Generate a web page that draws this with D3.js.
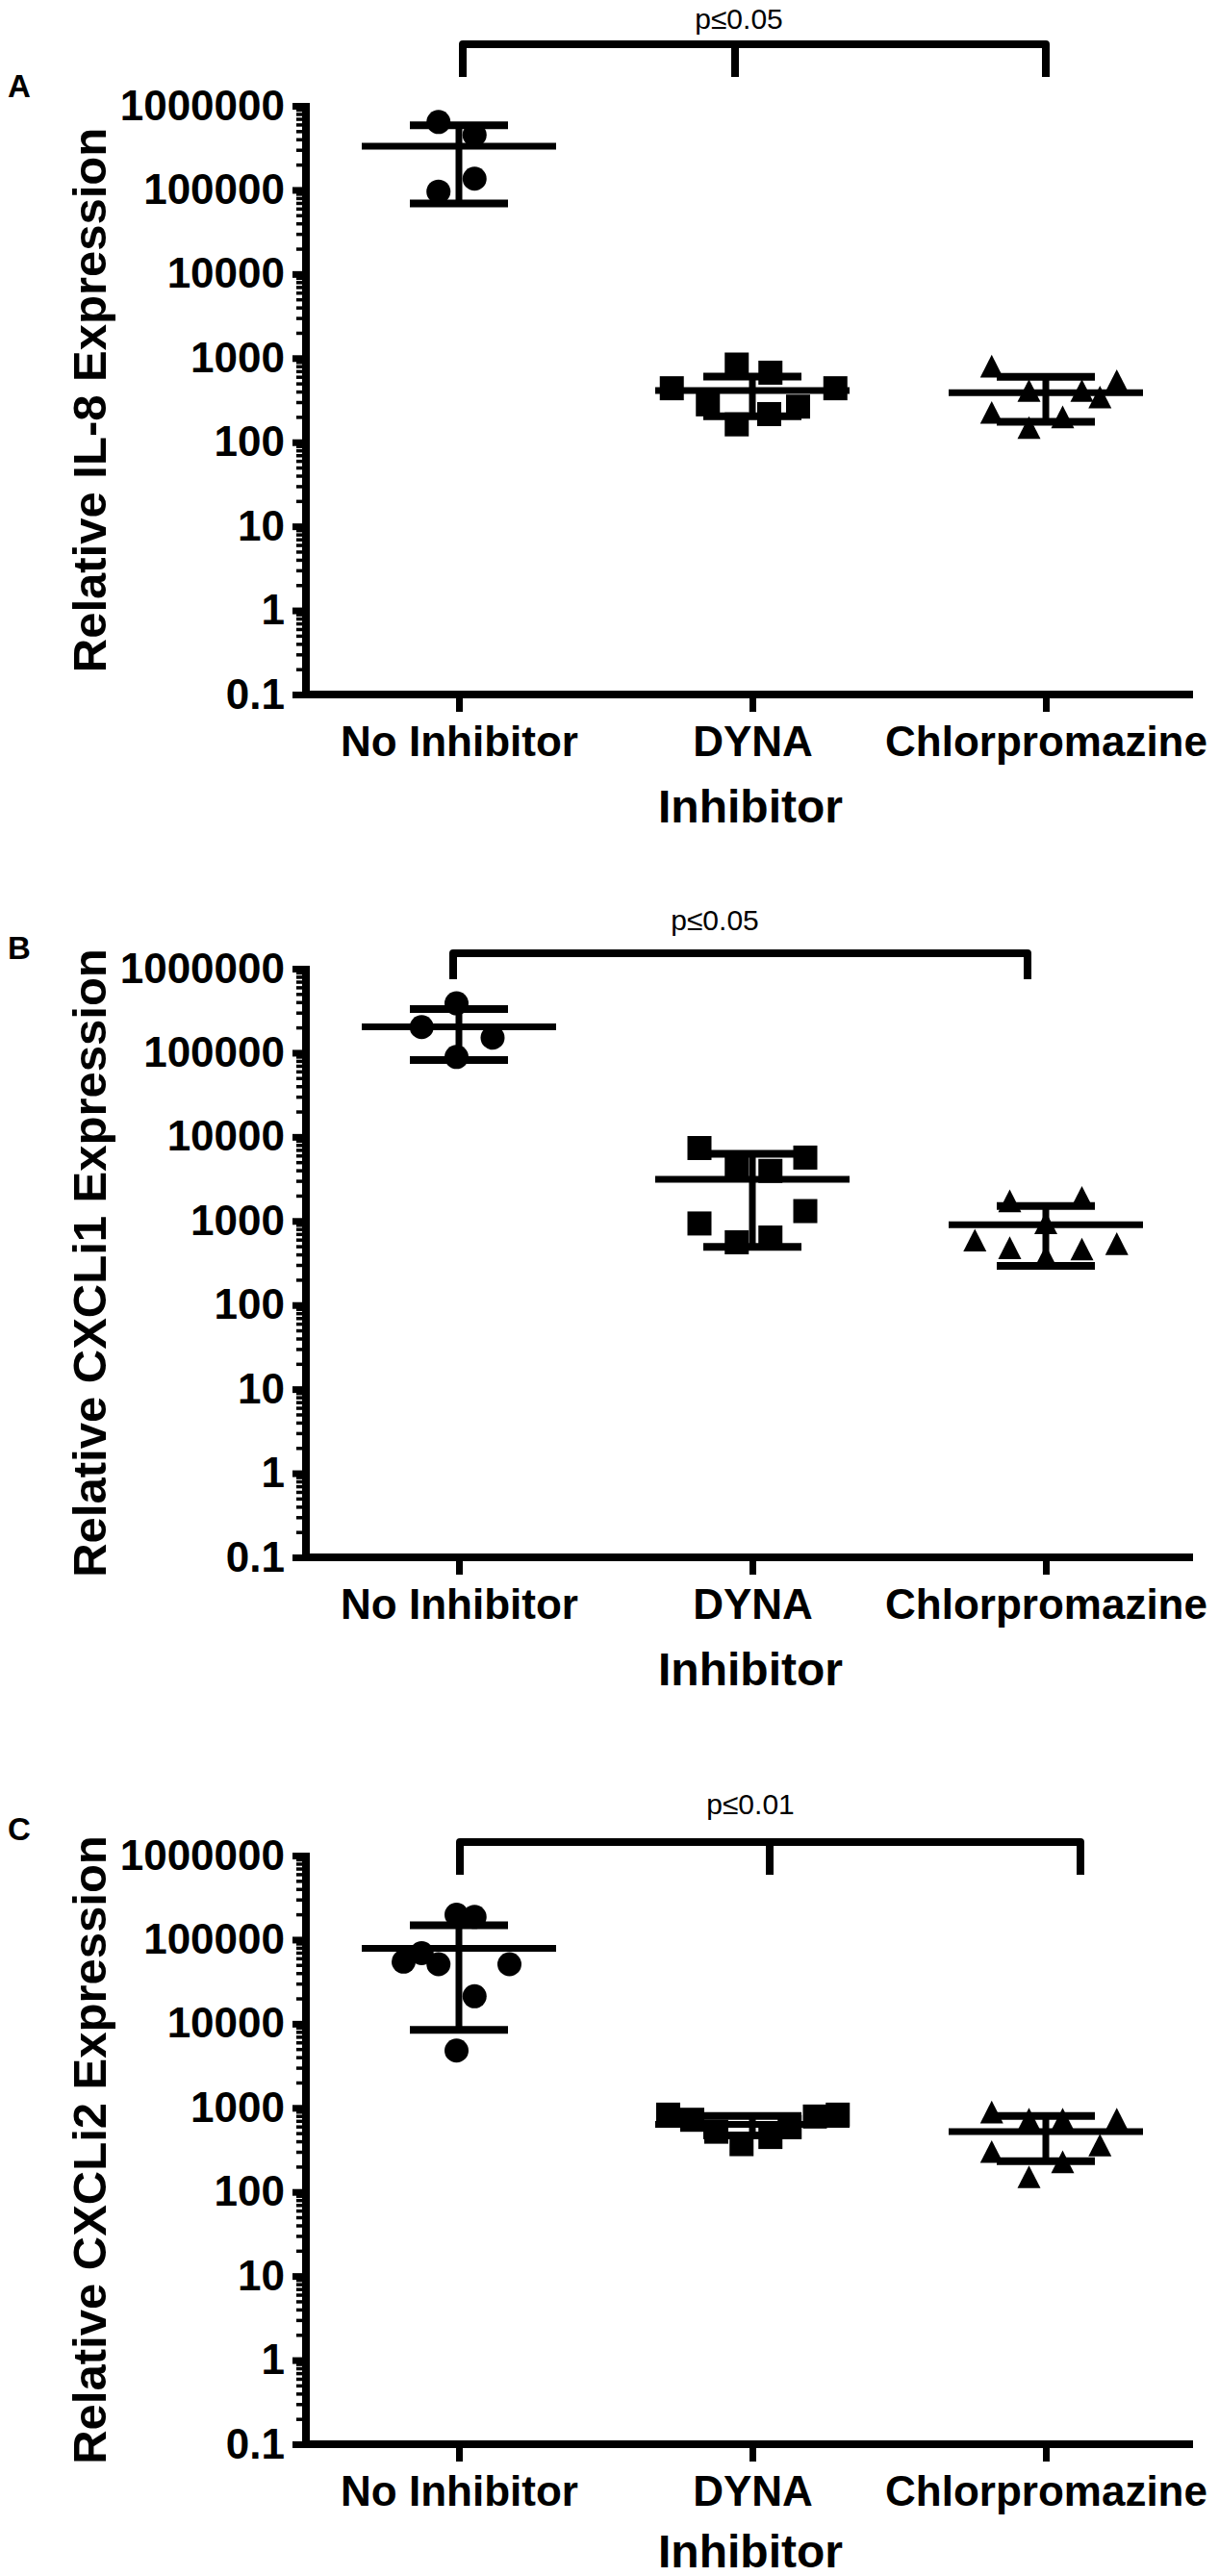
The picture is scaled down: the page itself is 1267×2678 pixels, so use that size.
<!DOCTYPE html>
<html><head><meta charset="utf-8">
<script src="https://cdn.jsdelivr.net/npm/d3@7"></script>
<style>
body{margin:0;background:#fff}
svg{display:block}
text{font-family:"Liberation Sans", Arial, Helvetica, sans-serif}
</style>
</head><body>
<svg id="c" width="1267" height="2678"></svg>
<script>
// ---------- data ----------
const categories = ["No Inhibitor", "DYNA", "Chlorpromazine"];
const yTicks = [0.1, 1, 10, 100, 1000, 10000, 100000, 1000000];
const yTickLabels = ["0.1", "1", "10", "100", "1000", "10000", "100000", "1000000"];
const xTitle = "Inhibitor";

// Panel A : IL-8
const il8NoInhibitor = [642000, 451000, 136000, 95600];
const il8Dyna = [838, 671, 438, 438, 282, 163, 216, 265];
const il8Chlor = [802, 412, 412, 538, 345, 226, 200, 149];
const il8Mean = [331000, 412, 387];
const il8Low = [68900, 203, 175];
const il8High = [588000, 604, 598];

// Panel B : CXCLi1
const cxcli1NoInhibitor = [387000, 202000, 151000, 89000];
const cxcli1Dyna = [7360, 5670, 4255, 3935, 933, 1310, 557, 635];
const cxcli1Chlor = [1733, 1905, 948, 592, 481, 464, 537, 378];
const cxcli1Mean = [203000, 3135, 902];
const cxcli1Low = [82000, 493, 292];
const cxcli1High = [330000, 6300, 1506];

// Panel C : CXCLi2
const cxcli2NoInhibitor = [198000, 186000, 69000, 54700, 51000, 51000, 21200, 4800];
const cxcli2Dyna = [830, 830, 721, 788, 520, 590, 370, 450];
const cxcli2Chlor = [891, 733, 733, 733, 361, 302, 228, 151];
const cxcli2Mean = [78900, 636, 523];
const cxcli2Low = [8470, 470, 232];
const cxcli2High = [148000, 800, 802];

// horizontal scatter spread of points (in marker-diameter units)
const spreadA = [[-0.85, 0.65, 0.65, -0.85],
                 [-0.65, 0.75, -3.35, 3.45, -1.85, -0.65, 0.7, 1.9],
                 [-2.25, -0.7, 1.5, 2.95, 2.25, -2.25, 0.7, -0.7]];
const spreadB = [[-0.1, -1.55, 1.4, -0.1],
                 [-2.2, 2.2, -0.65, 0.75, -2.2, 2.2, -0.65, 0.75],
                 [-1.5, 1.5, 0, -2.95, -1.5, 1.5, 2.95, 0]];
const spreadC = [[-0.1, 0.65, -1.55, -2.3, -0.85, 2.1, 0.65, -0.1],
                 [-3.5, 3.55, -2.5, 2.6, -1.5, 1.55, -0.45, 0.75],
                 [-2.25, -0.7, 0.7, 2.95, 2.25, -2.25, 0.7, -0.7]];

const panels = [
  { letter: "A", yTitle: "Relative IL-8 Expression",
    groups: [il8NoInhibitor, il8Dyna, il8Chlor], mean: il8Mean, low: il8Low, high: il8High,
    spread: spreadA, pText: "p\u22640.05" },
  { letter: "B", yTitle: "Relative CXCLi1 Expression",
    groups: [cxcli1NoInhibitor, cxcli1Dyna, cxcli1Chlor], mean: cxcli1Mean, low: cxcli1Low, high: cxcli1High,
    spread: spreadB, pText: "p\u22640.05" },
  { letter: "C", yTitle: "Relative CXCLi2 Expression",
    groups: [cxcli2NoInhibitor, cxcli2Dyna, cxcli2Chlor], mean: cxcli2Mean, low: cxcli2Low, high: cxcli2High,
    spread: spreadC, pText: "p\u22640.01" }
];

// ---------- layout ----------
const layout = [
  { top: 110, letterY: 101, pX: 768, pY: 30, brTop: 46, brBot: 80, brX: [481, 764, 1087], titleDy: 133 },
  { top: 1007, letterY: 997, pX: 743, pY: 967, brTop: 991, brBot: 1018, brX: [471, 1068], titleDy: 133 },
  { top: 1929, letterY: 1913, pX: 780, pY: 1886, brTop: 1915, brBot: 1949, brX: [478, 800, 1123], titleDy: 128 }
];
const axisX = 318, axisH = 612, xEnd = 1240;
const markerD = 25;

const svg = d3.select("#c");

function shapePath(kind) {
  const r = markerD / 2;
  if (kind === 0) return d3.symbol().type(d3.symbolCircle).size(Math.PI * r * r)();
  if (kind === 1) return `M${-r},${-r}H${r}V${r}H${-r}Z`;
  const h = 11.8, w = 12;
  return `M0,${-h}L${w},${h}L${-w},${h}Z`;
}

panels.forEach((p, pi) => {
  const L = layout[pi];
  const g = svg.append("g");
  const y = d3.scaleLog().domain([0.1, 1e6]).range([L.top + axisH, L.top]);
  const x = d3.scalePoint().domain(categories).range([477, 1087]);
  const baseY = L.top + axisH;

  // minor ticks
  const minors = [];
  for (let e = -1; e < 6; e++) for (let m = 2; m <= 9; m++) minors.push(m * Math.pow(10, e));
  const minorAxis = g.append("g").attr("transform", `translate(${axisX},0)`)
    .call(d3.axisLeft(y).tickValues(minors).tickSize(10).tickFormat(""));
  minorAxis.select(".domain").remove();
  minorAxis.selectAll(".tick line").attr("stroke", "#000").attr("stroke-width", 3.5);

  // y axis
  const yAxis = g.append("g").attr("transform", `translate(${axisX},0)`)
    .call(d3.axisLeft(y).tickValues(yTicks).tickFormat((d, i) => yTickLabels[i])
      .tickSize(14).tickSizeOuter(0).tickPadding(8));
  yAxis.select(".domain").remove();
  yAxis.selectAll(".tick line").attr("stroke", "#000").attr("stroke-width", 7);
  yAxis.selectAll(".tick text").attr("font-size", 44).attr("font-weight", "bold")
    .attr("font-family", '"Liberation Sans", Arial, sans-serif').attr("fill", "#000");
  g.append("line").attr("x1", axisX).attr("x2", axisX)
    .attr("y1", baseY + 4).attr("y2", L.top - 3)
    .attr("stroke", "#000").attr("stroke-width", 8);

  // x axis
  const xAxis = g.append("g").attr("transform", `translate(0,${baseY})`)
    .call(d3.axisBottom(x).tickSize(18).tickSizeOuter(0).tickPadding(15));
  xAxis.select(".domain").remove();
  xAxis.selectAll(".tick line").attr("stroke", "#000").attr("stroke-width", 7);
  xAxis.selectAll(".tick text").attr("font-size", 44).attr("font-weight", "bold")
    .attr("font-family", '"Liberation Sans", Arial, sans-serif').attr("fill", "#000");
  g.append("line").attr("x1", axisX - 4).attr("x2", xEnd)
    .attr("y1", baseY).attr("y2", baseY)
    .attr("stroke", "#000").attr("stroke-width", 8);

  // titles
  g.append("text").attr("x", (477 + 1087) / 2 - 2).attr("y", baseY + L.titleDy)
    .attr("text-anchor", "middle").attr("font-size", 48).attr("font-weight", "bold").text(xTitle);
  g.append("text").attr("transform", `translate(110,${L.top + axisH / 2}) rotate(-90)`)
    .attr("text-anchor", "middle").attr("font-size", 49).attr("font-weight", "bold").text(p.yTitle);
  g.append("text").attr("x", 8).attr("y", L.letterY).attr("font-size", 33)
    .attr("font-weight", "bold").text(p.letter);

  // significance bracket
  const bx = L.brX;
  let d = `M${bx[0]},${L.brBot}V${L.brTop}H${bx[bx.length - 1]}V${L.brBot}`;
  if (bx.length === 3) d += `M${bx[1]},${L.brTop}V${L.brBot}`;
  g.append("path").attr("d", d).attr("fill", "none").attr("stroke", "#000")
    .attr("stroke-width", 8).attr("stroke-linejoin", "round");
  g.append("text").attr("x", L.pX).attr("y", L.pY).attr("text-anchor", "middle")
    .attr("font-size", 30).text(p.pText);

  // mean & SD bars
  categories.forEach((c, ci) => {
    const cx = x(c);
    g.append("line").attr("x1", cx - 101).attr("x2", cx + 101)
      .attr("y1", y(p.mean[ci])).attr("y2", y(p.mean[ci])).attr("stroke", "#000").attr("stroke-width", 7);
    g.append("line").attr("x1", cx).attr("x2", cx)
      .attr("y1", y(p.low[ci])).attr("y2", y(p.high[ci])).attr("stroke", "#000").attr("stroke-width", 7);
    [p.low[ci], p.high[ci]].forEach(v => {
      g.append("line").attr("x1", cx - 51).attr("x2", cx + 51)
        .attr("y1", y(v)).attr("y2", y(v)).attr("stroke", "#000").attr("stroke-width", 8);
    });
  });

  // points
  p.groups.forEach((vals, ci) => {
    const cx = x(categories[ci]);
    g.append("g").selectAll("path").data(vals).join("path")
      .attr("d", shapePath(ci))
      .attr("transform", (v, i) => `translate(${cx + p.spread[ci][i] * markerD},${y(v)})`)
      .attr("fill", "#000");
  });
});
</script>
</body></html>
